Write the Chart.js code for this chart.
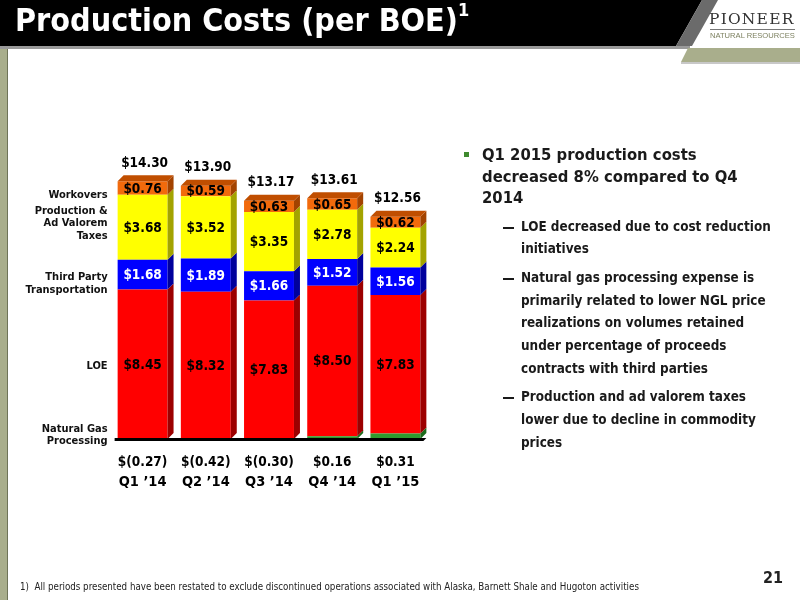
<!DOCTYPE html>
<html>
<head>
<meta charset="utf-8">
<script src="https://cdn.jsdelivr.net/npm/chart.js@4.4.1/dist/chart.umd.min.js"></script>
<style>
  html, body { margin: 0; padding: 0; background: #fff; }
  #page { position: relative; width: 800px; height: 600px; overflow: hidden; font-family: "DejaVu Sans Condensed", "DejaVu Sans", sans-serif; }
  #chart { position: absolute; left: 0; top: 0; }
  .abs { position: absolute; }
  #band { left: 0; top: 0; width: 720px; height: 46px; background: #000; clip-path: polygon(0 0, 702px 0, 676px 46px, 0 46px); }
  #stripe { left: 0; top: 0; width: 720px; height: 46px; background: #6b6b6b; clip-path: polygon(702px 0, 718px 0, 692px 46px, 676px 46px); }
  #shadow { left: 0; top: 46px; width: 690px; height: 3px; background: #9a9a9a; }
  #sage { left: 0; top: 48px; width: 800px; height: 14px; background: #a9ae8c; clip-path: polygon(688px 0, 800px 0, 800px 14px, 681px 14px); }
  #sageShadow { left: 681px; top: 62px; width: 119px; height: 2px; background: #c8c8c8; }
  #leftbar { left: 0; top: 49px; width: 7px; height: 551px; background: #a9ae8c; border-right: 1px solid #6f7458; }
  #title { left: 15px; top: 1px; color: #fff; font-size: 32px; font-weight: bold; white-space: nowrap; }
  #title sup { font-size: 18px; position: relative; top: -3px; }
  #logo1 { left: 709px; top: 10px; font-family: "DejaVu Serif", "Liberation Serif", serif; font-size: 15.5px; letter-spacing: 1.2px; color: #333; white-space: nowrap; }
  #logoLine { left: 710px; top: 29px; width: 85px; height: 1px; background: #777; }
  #logo2 { left: 710px; top: 31px; font-family: "Liberation Sans", sans-serif; font-size: 7.6px; color: #7d8160; white-space: nowrap; }
  #notes { left: 462px; top: 144px; width: 314px; color: #1a1a1a; font-weight: bold; }
  .b1 { position: relative; padding-left: 20px; font-size: 16.5px; line-height: 21.5px; margin-bottom: 7px; }
  .b1::before { content: ""; position: absolute; left: 2px; top: 8px; width: 5px; height: 5px; background: #3f8a2e; }
  .b2 { position: relative; padding-left: 59px; font-size: 13.4px; line-height: 22.7px; margin-bottom: 6px; }
  .b2::before { content: ""; position: absolute; left: 41px; top: 11px; width: 11px; height: 2px; background: #1a1a1a; }
  #foot { left: 20px; top: 581px; font-size: 9.7px; color: #222; white-space: nowrap; }
  #pnum { left: 763px; top: 568px; font-size: 16px; font-weight: bold; color: #222; }
</style>
</head>
<body>
<div id="page">
  <canvas id="chart" width="800" height="600"></canvas>
  <div class="abs" id="band"></div>
  <div class="abs" id="stripe"></div>
  <div class="abs" id="shadow"></div>
  <div class="abs" id="sage"></div>
  <div class="abs" id="sageShadow"></div>
  <div class="abs" id="leftbar"></div>
  <div class="abs" id="title">Production Costs (per BOE)<sup>1</sup></div>
  <div class="abs" id="logo1">PIONEER</div>
  <div class="abs" id="logoLine"></div>
  <div class="abs" id="logo2">NATURAL RESOURCES</div>
  <div class="abs" id="notes">
    <div class="b1">Q1 2015 production costs decreased 8% compared to Q4 2014</div>
    <div class="b2">LOE decreased due to cost reduction initiatives</div>
    <div class="b2">Natural gas processing expense is primarily related to lower NGL price realizations on volumes retained under percentage of proceeds contracts with third parties</div>
    <div class="b2">Production and ad valorem taxes lower due to decline in commodity prices</div>
  </div>
  <div class="abs" id="foot">1)&nbsp; All periods presented have been restated to exclude discontinued operations associated with Alaska, Barnett Shale and Hugoton activities</div>
  <div class="abs" id="pnum">21</div>
</div>
<script>
'use strict';

// *************** DATA
let quarters = ['Q1 \u201914', 'Q2 \u201914', 'Q3 \u201914', 'Q4 \u201914', 'Q1 \u201915'];
let gasProcessing = [-0.27, -0.42, -0.30, 0.16, 0.31];
let loe = [8.45, 8.32, 7.83, 8.50, 7.83];
let transport = [1.68, 1.89, 1.66, 1.52, 1.56];
let taxes = [3.68, 3.52, 3.35, 2.78, 2.24];
let workovers = [0.76, 0.59, 0.63, 0.65, 0.62];

// series names shown at the left of the first bar
let seriesNames = [
  ['Natural Gas', 'Processing'],
  ['LOE'],
  ['Third Party', 'Transportation'],
  ['Production &', 'Ad Valorem', 'Taxes'],
  ['Workovers']
];

// *************** HELPERS
function money(v) {
  return v < 0 ? '$(' + Math.abs(v).toFixed(2) + ')' : '$' + v.toFixed(2);
}

let DEPTH = 6;
let FONT = '"DejaVu Sans Condensed", "DejaVu Sans", sans-serif';

// draws side / top faces, value labels, totals and category labels
let boxPlugin = {
  id: 'boxPlugin',
  afterDatasetsDraw(chart) {
    let c = chart.ctx;
    let area = chart.chartArea;
    let base = chart.scales.y.getPixelForValue(0);
    let n = chart.data.labels.length;
    let tops = [];

    c.save();
    c.beginPath();
    c.rect(area.left, area.top - 40, area.right - area.left + 20, base - area.top + 40);
    c.clip();
    chart.data.datasets.forEach((ds, di) => {
      let meta = chart.getDatasetMeta(di);
      meta.data.forEach((bar, i) => {
        if (ds.data[i] <= 0) return;
        let half = bar.width / 2;
        let r = bar.x + half;
        c.fillStyle = ds.sideColor;
        c.beginPath();
        c.moveTo(r, bar.y);
        c.lineTo(r + DEPTH, bar.y - DEPTH);
        c.lineTo(r + DEPTH, bar.base - DEPTH);
        c.lineTo(r, bar.base);
        c.closePath();
        c.fill();
        if (tops[i] === undefined || bar.y < tops[i].y) {
          tops[i] = { y: bar.y, x: bar.x, half: half, color: ds.topColor };
        }
      });
    });
    tops.forEach((t) => {
      c.fillStyle = t.color;
      c.beginPath();
      c.moveTo(t.x - t.half, t.y);
      c.lineTo(t.x - t.half + DEPTH, t.y - DEPTH);
      c.lineTo(t.x + t.half + DEPTH, t.y - DEPTH);
      c.lineTo(t.x + t.half, t.y);
      c.closePath();
      c.fill();
    });
    c.restore();

    // floor line
    let first = chart.getDatasetMeta(0).data[0];
    let last = chart.getDatasetMeta(0).data[n - 1];
    c.fillStyle = '#000';
    c.beginPath();
    c.moveTo(first.x - first.width / 2 - 3, base - 1);
    c.lineTo(last.x + last.width / 2 + DEPTH, base - 1);
    c.lineTo(last.x + last.width / 2 + DEPTH - 3, base + 2);
    c.lineTo(first.x - first.width / 2 - 3, base + 2);
    c.closePath();
    c.fill();

    c.textAlign = 'center';
    c.textBaseline = 'middle';

    // value labels inside segments (all but gas processing)
    chart.data.datasets.forEach((ds, di) => {
      if (di === 0) return;
      let meta = chart.getDatasetMeta(di);
      c.font = 'bold 13.5px ' + FONT;
      c.fillStyle = ds.labelColor;
      meta.data.forEach((bar, i) => {
        c.fillText(money(ds.data[i]), bar.x, (bar.y + bar.base) / 2 + 1);
      });
    });

    // totals, gas processing values, categories
    for (let i = 0; i < n; i++) {
      let total = 0;
      chart.data.datasets.forEach((ds) => { total += ds.data[i]; });
      let x = first.x + (last.x - first.x) * i / (n - 1);
      c.fillStyle = '#000';
      c.font = 'bold 13.5px ' + FONT;
      c.fillText(money(total), x + 2, tops[i].y - 18);
      c.fillText(money(gasProcessing[i]), x, base + 23);
      c.font = 'bold 14.5px ' + FONT;
      c.fillText(chart.data.labels[i], x, base + 43);
    }

    // series names at left
    let nudge = [-4, 2, 9, -4, 7];
    c.textAlign = 'right';
    c.font = 'bold 11px ' + FONT;
    c.fillStyle = '#111';
    seriesNames.forEach((lines, di) => {
      let bar = chart.getDatasetMeta(di).data[0];
      let mid = di === 0 ? base : (bar.y + bar.base) / 2;
      mid += nudge[di];
      let lh = 12.5;
      let y0 = mid - (lines.length - 1) * lh / 2;
      lines.forEach((t, k) => c.fillText(t, first.x - first.width / 2 - 10, y0 + k * lh));
    });
  }
};

// *************** CHART
let ctx = document.getElementById('chart');

let chartObj = {
  type: 'bar',
  data: {
    labels: quarters,
    datasets: [
      { label: 'Natural Gas Processing', data: gasProcessing, backgroundColor: '#2e9a2e', sideColor: '#1b6b1b', topColor: '#1b6b1b', labelColor: '#000' },
      { label: 'LOE', data: loe, backgroundColor: '#ff0000', sideColor: '#9c0000', topColor: '#b30000', labelColor: '#000' },
      { label: 'Third Party Transportation', data: transport, backgroundColor: '#0000ff', sideColor: '#00009c', topColor: '#0000b3', labelColor: '#fff' },
      { label: 'Production & Ad Valorem Taxes', data: taxes, backgroundColor: '#ffff00', sideColor: '#a3a300', topColor: '#b8b800', labelColor: '#000' },
      { label: 'Workovers', data: workovers, backgroundColor: '#f26a0c', sideColor: '#a34300', topColor: '#c04e00', labelColor: '#000' }
    ]
  },
  options: {
    responsive: false,
    animation: false,
    devicePixelRatio: 1,
    layout: { padding: { left: 111, right: 373, top: 156, bottom: 161 } },
    datasets: { bar: { barPercentage: 0.79, categoryPercentage: 1, borderWidth: 0 } },
    plugins: { legend: { display: false }, tooltip: { enabled: false } },
    scales: {
      x: { display: false, stacked: true },
      y: { display: false, stacked: true, min: 0, max: 16 }
    }
  },
  plugins: [boxPlugin]
};

new Chart(ctx, chartObj); // eslint-disable-line
</script>
</body>
</html>
